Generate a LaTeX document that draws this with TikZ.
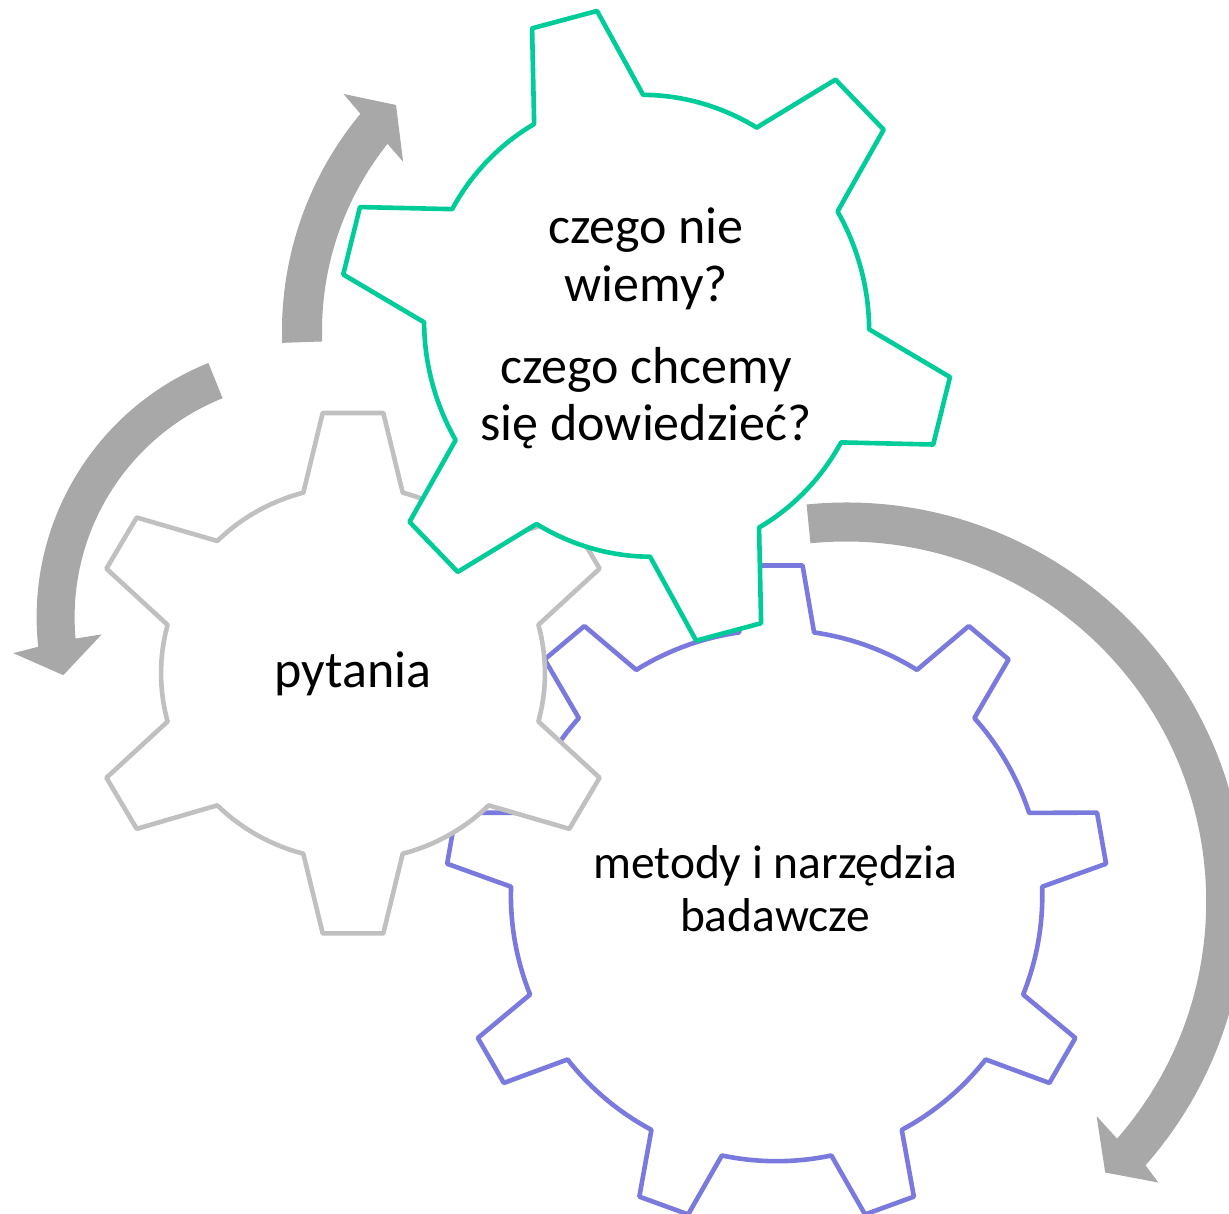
\documentclass[tikz,border=0pt]{standalone}
\usepackage{fontspec}
\setmainfont{Carlito}
\definecolor{gearblue}{RGB}{122,122,222}
\definecolor{geargreen}{RGB}{0,204,153}
\definecolor{geargrey}{RGB}{192,192,192}
\definecolor{arrowgrey}{RGB}{168,168,168}
\tikzset{
  gearline/.style={line width=4.6pt, line join=round, fill=white},
  cyclearrow/.style={fill=arrowgrey, draw=none},
  bigtext/.style={anchor=base, inner sep=0pt, font=\fontsize{52}{58}\selectfont},
  smalltext/.style={anchor=base, inner sep=0pt, font=\fontsize{47.5}{53}\selectfont},
}
\begin{document}
\begin{tikzpicture}[x=1pt,y=1pt]
\useasboundingbox (0,0) rectangle (1229,1214);
\clip (0,0) rectangle (1229,1214);

% blue gear (9 teeth)
\begin{scope}[shift={(776.6,318.5)}]
\def\Rb{265.7}\def\ab{8.11}\def\Rt{331.0}\def\at{4.50}
\draw[gearline, draw=gearblue] ({10-\ab}:\Rb)
  \foreach \ang in {10,50,...,330} {
    -- ({\ang-\at}:\Rt) -- ({\ang+\at}:\Rt) -- ({\ang+\ab}:\Rb)
    arc[start angle={\ang+\ab}, end angle={\ang+40-\ab}, radius=\Rb]
  } -- cycle;
\end{scope}

% grey gear (6 teeth)
\begin{scope}[shift={(353,540.8)}, xscale=1.027]
\def\Rb{186.9}\def\ab{15.01}\def\Rt{261.9}\def\at{6.47}
\draw[gearline, draw=geargrey] ({30-\ab}:\Rb)
  \foreach \ang in {30,90,...,330} {
    -- ({\ang-\at}:\Rt) -- ({\ang+\at}:\Rt) -- ({\ang+\ab}:\Rb)
    arc[start angle={\ang+\ab}, end angle={\ang+60-\ab}, radius=\Rb]
  } -- cycle;
\end{scope}

% green gear (6 teeth)
\begin{scope}[shift={(646.6,888.2)}, rotate=15, xscale=0.958]
\def\Rb{231.6}\def\ab{14.73}\def\Rt{318.9}\def\at{6.32}
\draw[gearline, draw=geargreen] ({30-\ab}:\Rb)
  \foreach \ang in {30,90,...,330} {
    -- ({\ang-\at}:\Rt) -- ({\ang+\at}:\Rt) -- ({\ang+\ab}:\Rb)
    arc[start angle={\ang+\ab}, end angle={\ang+60-\ab}, radius=\Rb]
  } -- cycle;
\end{scope}

% circular arrows
\begin{scope}[shift={(622,883)}]
\fill[cyclearrow] (182:340) arc[start angle=182, end angle=140.3, radius=340]
  -- (139.6:365.8) -- (135:319.6) -- (142.3:276.6) -- (141.4:300)
  arc[start angle=141.4, end angle=182, radius=300] -- cycle;
\end{scope}
\begin{scope}[shift={(310.6,596.8)}]
\fill[cyclearrow] (111.9:274) arc[start angle=111.9, end angle=186.2, radius=274]
  -- (186.9:299.5) -- (193.2:254) -- (184.7:209.6) -- (185.2:236)
  arc[start angle=185.2, end angle=111.9, radius=236] -- cycle;
\end{scope}
\begin{scope}[shift={(846.2,312.5)}]
\fill[cyclearrow] (95.7:399) arc[start angle=95.7, end angle=-41.4, radius=399]
  -- (-42:420) -- (-46.3:374.9) -- (-40.6:329.8) -- (-41.2:360)
  arc[start angle=-41.2, end angle=95.7, radius=360] -- cycle;
\end{scope}

% texts
\node[bigtext] (g1) at (646,970.5) {czego nie};
\node[bigtext] (g2) at (646,912.2) {wiemy?};
\node[bigtext] (g3) at (646,830.5) {czego chcemy};
\node[bigtext] (g4) at (646,773.9) {się dowiedzieć?};
\node[bigtext] (p1) at (353,526) {pytania};
\node[smalltext] (m1) at (775,335) {metody i narzędzia};
\node[smalltext] (m2) at (775,282) {badawcze};
\end{tikzpicture}
\end{document}
